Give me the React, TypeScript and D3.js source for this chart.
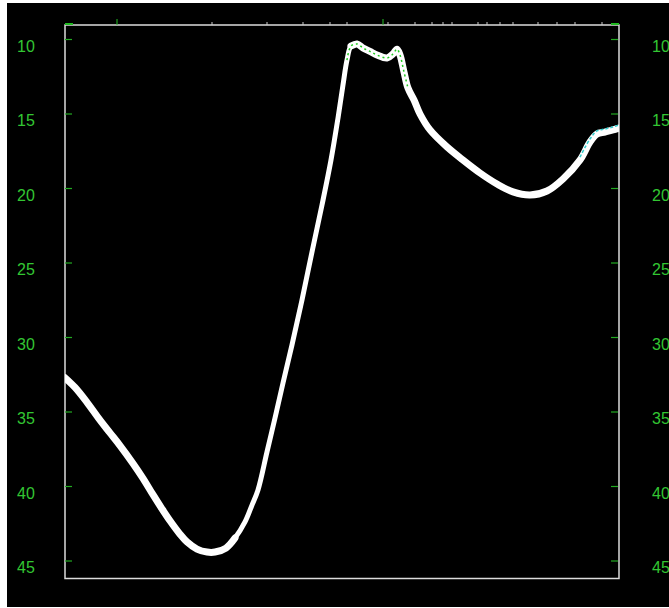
import * as d3 from 'd3';
import { useEffect, useRef } from 'react';

// sample index along the trace and measured depth value
const sampleX = [
  0, 10, 22, 35, 45, 55, 68, 78, 88, 97, 105, 115, 122, 132, 142, 150, 161, 170, 180, 187,
  193, 202, 210, 218, 227, 237, 247, 257, 266, 273, 278, 282, 286, 292, 298, 305, 312, 322,
  328, 332, 335, 339, 343, 349, 355, 365, 382, 398, 415, 432, 448, 465, 482, 498, 515, 525,
  532, 540, 548, 554,
];
const depth = [
  32.7, 33.35, 34.35, 35.55, 36.4, 37.25, 38.45, 39.45, 40.55, 41.5, 42.3, 43.2, 43.72, 44.2,
  44.4, 44.4, 44.13, 43.46, 42.38, 41.25, 40.23, 37.68, 35.4, 33.05, 30.5, 27.48, 24.26,
  21.11, 18.09, 15.27, 13.05, 11.38, 10.44, 10.3, 10.57, 10.8, 11.04, 11.24, 10.97, 10.65,
  11.04, 12.18, 13.26, 14.06, 15.0, 16.07, 17.21, 18.09, 18.96, 19.7, 20.23, 20.44, 20.17,
  19.36, 18.09, 16.88, 16.34, 16.21, 16.07, 15.94,
];

const yTicks = [10, 15, 20, 25, 30, 35, 40, 45];
const topTicks = [
  147, 202, 238, 265, 282, 323, 350, 367, 378, 387, 413, 422, 435, 448, 473, 492, 510, 537,
];
const topMarks = [52, 318];

export default function App() {
  const ref = useRef<SVGSVGElement>(null);

  useEffect(() => {
    drawChart();
  }, []);

  const drawChart = () => {
    const W = 669;
    const H = 608;
    const frame = { left: 65, top: 25, right: 619, bottom: 578.5 };

    const svg = d3.select(ref.current);
    svg.selectAll('*').remove();

    svg.append('rect').attr('width', W).attr('height', H).style('fill', '#fff');
    svg
      .append('rect')
      .attr('x', 7)
      .attr('y', 3)
      .attr('width', W - 7)
      .attr('height', H - 4)
      .style('fill', '#000');

    const x = d3.scaleLinear().domain([0, 554]).range([frame.left, frame.right]);
    const y = d3.scaleLinear().domain([10, 45]).range([39.5, 561]);

    const data = sampleX.map((s, i) => ({ s, v: depth[i] }));

    // frame
    svg
      .append('rect')
      .attr('x', frame.left)
      .attr('y', frame.top)
      .attr('width', frame.right - frame.left)
      .attr('height', frame.bottom - frame.top)
      .style('fill', 'none')
      .style('stroke', '#dcdcdc')
      .style('stroke-width', 1.5);

    // corner marks
    [frame.left + 4, frame.right - 4].forEach((cx) => {
      svg
        .append('line')
        .attr('x1', cx - 4)
        .attr('x2', cx + 4)
        .attr('y1', frame.top - 1)
        .attr('y2', frame.top - 1)
        .style('stroke', '#2b2')
        .style('stroke-width', 2);
    });

    // top ticks
    svg
      .selectAll('.top-tick')
      .data(topTicks)
      .enter()
      .append('line')
      .attr('x1', (d) => x(d))
      .attr('x2', (d) => x(d))
      .attr('y1', frame.top - 3)
      .attr('y2', frame.top)
      .style('stroke', '#ccc')
      .style('stroke-width', 1);

    svg
      .selectAll('.top-mark')
      .data(topMarks)
      .enter()
      .append('line')
      .attr('x1', (d) => x(d))
      .attr('x2', (d) => x(d))
      .attr('y1', frame.top - 6)
      .attr('y2', frame.top)
      .style('stroke', '#2b2')
      .style('stroke-width', 1);

    // y ticks on both sides
    const tickG = svg.append('g');
    yTicks.forEach((t) => {
      tickG
        .append('line')
        .attr('x1', frame.left)
        .attr('x2', frame.left + 7)
        .attr('y1', y(t))
        .attr('y2', y(t))
        .style('stroke', '#2a2')
        .style('stroke-width', 1.2);
      tickG
        .append('line')
        .attr('x1', frame.right - 8)
        .attr('x2', frame.right - 1)
        .attr('y1', y(t))
        .attr('y2', y(t))
        .style('stroke', '#2a2')
        .style('stroke-width', 1.2);
      tickG
        .append('text')
        .attr('x', 17)
        .attr('y', y(t) + 12)
        .style('fill', '#33c633')
        .style('font-size', '16px')
        .style('font-family', 'Liberation Sans, Arial, sans-serif')
        .text(t);
      tickG
        .append('text')
        .attr('x', 652)
        .attr('y', y(t) + 12)
        .style('fill', '#33c633')
        .style('font-size', '16px')
        .style('font-family', 'Liberation Sans, Arial, sans-serif')
        .text(t);
    });

    const line = d3
      .line<{ s: number; v: number }>()
      .x((d) => x(d.s))
      .y((d) => y(d.v))
      .curve(d3.curveCatmullRom);

    svg
      .append('clipPath')
      .attr('id', 'plot-clip')
      .append('rect')
      .attr('x', frame.left)
      .attr('y', frame.top)
      .attr('width', frame.right - frame.left)
      .attr('height', frame.bottom - frame.top);

    const plot = svg.append('g').attr('clip-path', 'url(#plot-clip)');

    plot
      .append('path')
      .datum(data)
      .attr('d', line)
      .style('fill', 'none')
      .style('stroke', '#fff')
      .style('stroke-width', 5)
      .style('stroke-linejoin', 'round');

    // the scatter band is wider on the slow parts of the trace
    [
      data.filter((d) => d.s <= 170),
      data.filter((d) => d.s >= 286),
    ].forEach((part) => {
      plot
        .append('path')
        .datum(part)
        .attr('d', line)
        .style('fill', 'none')
        .style('stroke', '#fff')
        .style('stroke-width', 7)
        .style('stroke-linecap', 'round')
        .style('stroke-linejoin', 'round');
    });

    // coloured speckle along the peak and the right tail
    plot
      .append('path')
      .datum(data.filter((d) => d.s >= 282 && d.s <= 343))
      .attr('d', line)
      .style('fill', 'none')
      .style('stroke', '#2c2')
      .style('stroke-width', 1.5)
      .style('stroke-dasharray', '2 3');

    plot
      .append('path')
      .datum(data.filter((d) => d.s >= 515))
      .attr('d', line)
      .attr('transform', 'translate(0,-3)')
      .style('fill', 'none')
      .style('stroke', '#3cc')
      .style('stroke-width', 1.5)
      .style('stroke-dasharray', '3 2');
  };

  return (
    <svg
      ref={ref}
      width={669}
      height={608}
      style={{ position: 'absolute', left: 0, top: 0, display: 'block' }}
    />
  );
}
